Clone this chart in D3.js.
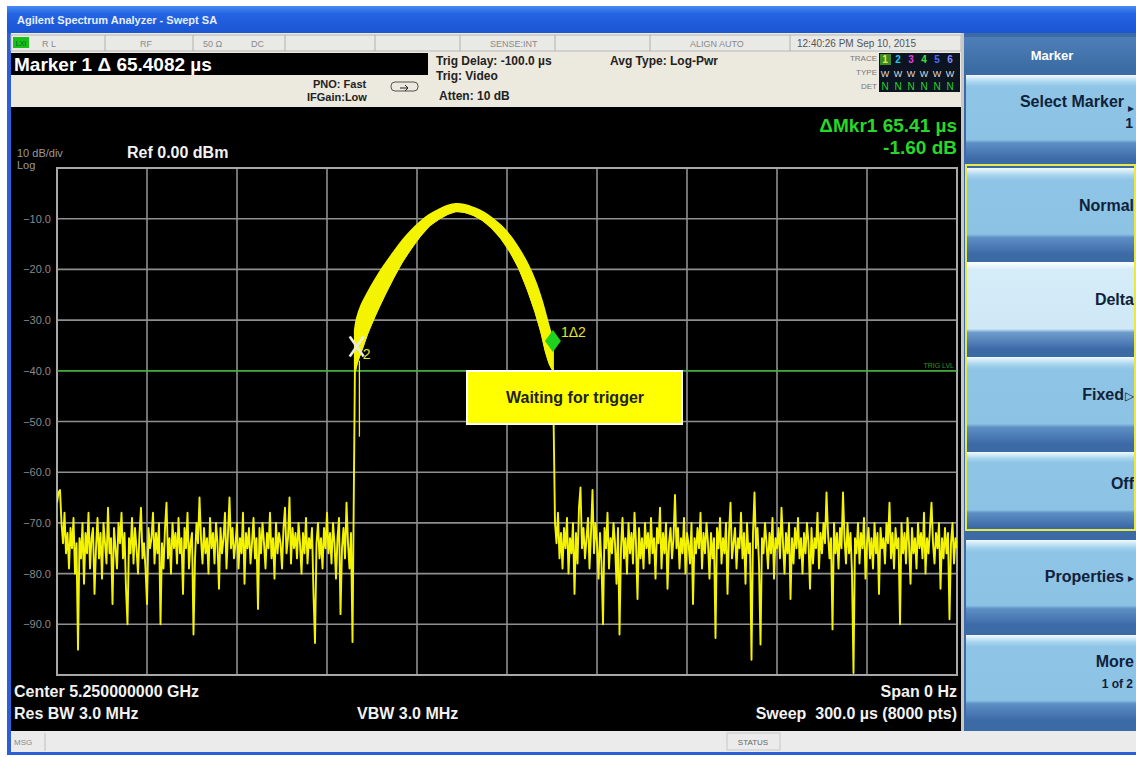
<!DOCTYPE html>
<html>
<head>
<meta charset="utf-8">
<script src="https://cdn.jsdelivr.net/npm/d3@7"></script>
<style>
  body { margin: 0; background: #fff; }
  svg { display: block; font-family: 'Liberation Sans', Arial, sans-serif; }
</style>
</head>
<body>
<script>
// sweep: 0 .. 300 us, 8000 pts, ref 0 dBm, 10 dB/div
const sweepRange = [0, 300];
const levelRange = [-100, 0];
const xGrid = [0, 30, 60, 90, 120, 150, 180, 210, 240, 270, 300];
const yGrid = [-100, -90, -80, -70, -60, -50, -40, -30, -20, -10, 0];
const yLabels = [-10, -20, -30, -40, -50, -60, -70, -80, -90];
const trigLevel = -40;

// noise floor before the burst (0 .. 98.5 us, every 0.5 us)
const noiseStep = 0.5;
const leftNoise = [
  -66, -64, -63.5, -70, -74, -68, -76, -72, -79, -71, -75, -69, -80, -74, -95, -73, -77, -70, -82, -72,
  -76, -68, -79, -73, -71, -84, -75, -69, -77, -72, -81, -70, -74, -78, -67, -76, -73, -86, -71, -75,
  -79, -70, -74, -68, -77, -72, -83, -90, -73, -76, -69, -78, -71, -75, -80, -72, -67, -77, -74, -79,
  -86, -71, -75, -73, -68, -78, -72, -76, -70, -90, -74, -79, -71, -66, -77, -73, -80, -70, -75, -72,
  -78, -69, -76, -73, -84, -71, -75, -68, -79, -74, -72, -92, -77, -70, -74, -65, -73, -78, -71, -76,
  -73, -80, -69, -75, -72, -78, -70, -74, -83, -71, -76, -73, -68, -79, -72, -65, -75, -71, -77, -74,
  -70, -79, -73, -76, -68, -82, -72, -75, -71, -78, -74, -69, -77, -73, -87, -71, -76, -70, -74, -79,
  -72, -75, -68, -77, -73, -81, -70, -76, -72, -74, -79, -71, -67, -76, -73, -65, -78, -71, -75, -72,
  -77, -70, -74, -80, -72, -76, -69, -78, -73, -75, -71, -84, -93.7, -74, -70, -77, -73, -79, -71, -75,
  -68, -76, -72, -78, -70, -74, -81, -73, -69, -88, -75, -71, -77, -66, -74, -79, -72, -93.5
];

// burst envelope (upper / lower edge of the trace band)
const pulseTime = [99.3, 100, 101.5, 103.5, 106, 109, 112, 115, 118, 121, 124, 127, 130, 133,
  136, 139, 142, 145, 148, 151, 154, 157, 159.5, 161.5, 163, 164.3, 165.3];
const pulseHi = [-32.0, -29.6, -27.0, -24.7, -22.1, -19.3, -16.8, -14.4, -12.4, -10.7, -9.3, -8.3, -7.5, -7.1,
  -7.3, -7.9, -8.7, -9.9, -11.4, -13.4, -16.0, -19.1, -22.5, -26.0, -29.2, -32.0, -33.9];
const pulseLo = [-40.2, -38.3, -35.9, -32.5, -29.0, -25.2, -21.7, -18.5, -15.8, -13.4, -11.4, -10.1, -9.1, -8.5,
  -8.7, -9.3, -10.3, -11.8, -13.8, -16.4, -19.7, -24.1, -28.4, -32.5, -36.3, -38.7, -39.8];
const dipTime = [100.8];
const dipLevel = [-53];

// noise floor after the burst (166 .. 300 us)
const rightStart = 166;
const rightNoise = [
  -70, -74, -68, -77, -72, -79, -71, -75, -69, -80, -73, -76, -70, -84, -72, -78, -67, -63, -75, -71,
  -77, -73, -69, -79, -72, -63.5, -76, -70, -74, -81, -72, -78, -90, -71, -75, -68, -79, -73, -76, -70,
  -74, -82, -71, -92, -75, -69, -77, -73, -80, -70, -76, -72, -78, -68, -74, -85, -71, -77, -73, -79,
  -70, -75, -72, -78, -69, -76, -73, -81, -71, -74, -67, -79, -72, -76, -70, -83, -74, -71, -77, -73,
  -64.5, -75, -71, -79, -73, -76, -69, -80, -72, -74, -78, -70, -86, -73, -76, -71, -75, -68, -79, -72,
  -76, -70, -74, -81, -72, -77, -73, -92.7, -71, -75, -69, -78, -73, -76, -70, -84, -72, -66, -77, -74,
  -71, -79, -73, -75, -68, -77, -72, -82, -70, -76, -74, -97, -72, -64, -75, -71, -78, -94, -73, -76,
  -70, -74, -79, -72, -76, -69, -81, -73, -75, -71, -77, -67, -74, -80, -72, -76, -70, -85, -73, -78,
  -71, -75, -69, -77, -73, -80, -72, -76, -70, -74, -83, -71, -78, -73, -75, -68, -79, -72, -76, -70,
  -74, -64, -72, -77, -73, -91, -70, -76, -72, -79, -71, -75, -64, -73, -78, -70, -76, -72, -80, -99.6,
  -73, -76, -70, -78, -72, -75, -69, -81, -74, -71, -77, -73, -79, -70, -76, -72, -84, -71, -75, -73,
  -78, -70, -74, -66, -77, -72, -79, -71, -75, -73, -90, -70, -76, -72, -78, -69, -74, -82, -71, -76,
  -73, -79, -70, -75, -72, -77, -68, -80, -73, -76, -71, -66, -74, -78, -72, -75, -70, -83, -73, -77,
  -71, -76, -72, -89, -74, -70, -78, -73, -75
];

// markers
const markerTime = [165.3, 99.9];
const markerLevel = [-34.1, -35.2];

// softkeys
const softkeys = [
  { label: 'Select Marker', sub: '1', arrow: '\u25B8', y0: 75, y1: 160 },
  { label: 'Normal', y0: 168, y1: 255 },
  { label: 'Delta', y0: 262, y1: 350, active: true },
  { label: 'Fixed', arrow: '\u25B7', y0: 357, y1: 445 },
  { label: 'Off', y0: 452, y1: 528 },
  { label: 'Properties', arrow: '\u25B8', y0: 540, y1: 626 },
  { label: 'More', sub: '1 of 2', y0: 635, y1: 721 }
];

const W = 1136, H = 758;
const plot = { left: 57, right: 957, top: 168, bottom: 675 };

const svg = d3.select('body').append('svg').attr('width', W).attr('height', H);
const defs = svg.append('defs');

function grad(id, stops) {
  const g = defs.append('linearGradient').attr('id', id).attr('x1', 0).attr('y1', 0).attr('x2', 0).attr('y2', 1);
  stops.forEach(s => g.append('stop').attr('offset', s[0]).attr('stop-color', s[1]));
}
grad('title', [[0, '#4a8af2'], [0.3, '#2463e2'], [1, '#1a55d2']]);
grad('key', [[0, '#f2fafe'], [0.08, '#aad6ef'], [0.14, '#8ec4e6'], [0.76, '#8cc2e4'], [0.8, '#5d8fc4'], [1, '#3b68a6']]);
grad('keyOn', [[0, '#ffffff'], [0.08, '#d6edf9'], [0.76, '#cfe8f6'], [0.8, '#6f9ccc'], [1, '#3b68a6']]);
grad('head', [[0, '#4f7fb8'], [1, '#3a6aa2']]);

// window frame + title bar
svg.append('rect').attr('x', 7).attr('y', 6).attr('width', W - 7).attr('height', 749).attr('fill', '#2a5fd6');
svg.append('rect').attr('x', 7).attr('y', 6).attr('width', W - 7).attr('height', 27).attr('fill', 'url(#title)');
svg.append('text').attr('x', 17).attr('y', 24).attr('fill', '#e6eeff').attr('font-size', 11).attr('font-weight', 'bold')
  .text('Agilent Spectrum Analyzer - Swept SA');

// header area
svg.append('rect').attr('x', 11).attr('y', 33).attr('width', 950).attr('height', 75).attr('fill', '#ece9df');
svg.append('rect').attr('x', 11).attr('y', 35).attr('width', 950).attr('height', 16).attr('fill', '#e9e9e6')
  .attr('stroke', '#b8b8b8');
[105, 193, 285, 375, 460, 555, 650, 790].forEach(px => {
  svg.append('line').attr('x1', px).attr('x2', px).attr('y1', 35).attr('y2', 51).attr('stroke', '#b0b0b0');
});
svg.append('rect').attr('x', 13).attr('y', 37).attr('width', 16).attr('height', 11).attr('fill', '#19c019');
svg.append('text').attr('x', 21).attr('y', 46).attr('text-anchor', 'middle').attr('font-size', 7).attr('fill', '#063').text('LXI');
const statusTxt = [[42, 'R L'], [140, 'RF'], [203, '50 \u03A9'], [251, 'DC'], [490, 'SENSE:INT'], [690, 'ALIGN AUTO'], [797, '12:40:26 PM Sep 10, 2015']];
statusTxt.forEach(s => {
  svg.append('text').attr('x', s[0]).attr('y', 47).attr('font-size', s[0] > 790 ? 10 : 9)
    .attr('fill', s[0] > 790 ? '#555' : '#8a8a8a').text(s[1]);
});

svg.append('rect').attr('x', 11).attr('y', 53).attr('width', 417).attr('height', 22).attr('fill', '#000');
svg.append('text').attr('x', 14).attr('y', 71).attr('fill', '#fff').attr('font-size', 19).attr('font-weight', 'bold')
  .text('Marker 1 \u0394 65.4082 \u00B5s');

const hdr = [[313, 88, 'PNO: Fast'], [307, 101, 'IFGain:Low'], [436, 65, 'Trig Delay: -100.0 \u00B5s'],
  [436, 80, 'Trig: Video'], [439, 100, 'Atten: 10 dB'], [610, 65, 'Avg Type: Log-Pwr']];
hdr.forEach(h => {
  svg.append('text').attr('x', h[0]).attr('y', h[1]).attr('font-size', h[0] < 400 ? 11 : 12)
    .attr('font-weight', 'bold').attr('fill', '#222').text(h[2]);
});
svg.append('rect').attr('x', 391).attr('y', 82).attr('width', 27).attr('height', 9).attr('rx', 4)
  .attr('fill', 'none').attr('stroke', '#555');
svg.append('path').attr('d', 'M400,88 L408,88 M405,85 L408,88 L405,91').attr('stroke', '#222').attr('fill', 'none');

// trace / type / det box
[['TRACE', 61], ['TYPE', 75], ['DET', 89]].forEach(r => {
  svg.append('text').attr('x', 877).attr('y', r[1]).attr('text-anchor', 'end').attr('font-size', 8).attr('fill', '#777').text(r[0]);
});
svg.append('rect').attr('x', 879).attr('y', 53).attr('width', 81).attr('height', 39).attr('fill', '#0b1420');
const traceCol = ['#e8e830', '#20c8f0', '#e040e0', '#40e040', '#4a6cff', '#8a8aff'];
traceCol.forEach((c, i) => {
  if (i === 0) svg.append('rect').attr('x', 880).attr('y', 54).attr('width', 11).attr('height', 11).attr('fill', '#3a8a2a');
  svg.append('text').attr('x', 885 + i * 13).attr('y', 63).attr('text-anchor', 'middle').attr('font-size', 10)
    .attr('font-weight', 'bold').attr('fill', c).text(i + 1);
  svg.append('text').attr('x', 885 + i * 13).attr('y', 77).attr('text-anchor', 'middle').attr('font-size', 9)
    .attr('fill', '#ddd').text('W');
  svg.append('text').attr('x', 885 + i * 13).attr('y', 90).attr('text-anchor', 'middle').attr('font-size', 10)
    .attr('fill', '#2cd02c').text('N');
});

// display area
svg.append('rect').attr('x', 11).attr('y', 107).attr('width', 950).attr('height', 624).attr('fill', '#000');
svg.append('rect').attr('x', 961).attr('y', 33).attr('width', 3).attr('height', 698).attr('fill', '#c8c8c8');

const x = d3.scaleLinear().domain(sweepRange).range([plot.left, plot.right]);
const y = d3.scaleLinear().domain(levelRange).range([plot.bottom, plot.top]);

const grid = svg.append('g').attr('class', 'grid');
grid.selectAll('line.v').data(xGrid).join('line').attr('class', 'v')
  .attr('x1', d => x(d)).attr('x2', d => x(d)).attr('y1', plot.top).attr('y2', plot.bottom)
  .attr('stroke', '#8f8f8f').attr('stroke-width', 1.6);
grid.selectAll('line.h').data(yGrid).join('line').attr('class', 'h')
  .attr('x1', plot.left).attr('x2', plot.right).attr('y1', d => y(d)).attr('y2', d => y(d))
  .attr('stroke', '#8f8f8f').attr('stroke-width', 1.6);
grid.append('rect').attr('x', plot.left).attr('y', plot.top).attr('width', plot.right - plot.left)
  .attr('height', plot.bottom - plot.top).attr('fill', 'none').attr('stroke', '#a8a8a8').attr('stroke-width', 2);

const yAxis = d3.axisLeft(y).tickValues(yLabels).tickSize(0).tickPadding(6).tickFormat(d3.format('.1f'));
svg.append('g').attr('transform', `translate(${plot.left},0)`).call(yAxis)
  .call(g => g.select('.domain').remove())
  .selectAll('text').attr('fill', '#8a8a8a').attr('font-size', 11).attr('font-family', 'Liberation Sans, Arial');

// trigger level
svg.append('line').attr('x1', plot.left).attr('x2', plot.right).attr('y1', y(trigLevel)).attr('y2', y(trigLevel))
  .attr('stroke', '#34b534').attr('stroke-width', 1.5);
svg.append('text').attr('x', 954).attr('y', y(trigLevel) - 3).attr('text-anchor', 'end').attr('font-size', 7)
  .attr('fill', '#2a9a2a').text('TRIG LVL');

// trace
svg.append('clipPath').attr('id', 'clip').append('rect').attr('x', plot.left).attr('y', plot.top)
  .attr('width', plot.right - plot.left).attr('height', plot.bottom - plot.top + 2);
const traceG = svg.append('g').attr('clip-path', 'url(#clip)');

const pulse = pulseTime.map((t, i) => ({ t: t, hi: pulseHi[i], lo: pulseLo[i] }));
const trace = leftNoise.map((v, i) => ({ t: i * noiseStep, db: v }))
  .concat(pulse.map(p => ({ t: p.t, db: p.lo })))
  .concat(rightNoise.map((v, i) => ({ t: rightStart + i * noiseStep, db: v })));

const yellow = '#f4f400';
traceG.append('path').datum(pulse)
  .attr('d', d3.area().x(d => x(d.t)).y0(d => y(d.lo)).y1(d => y(d.hi)).curve(d3.curveCatmullRom))
  .attr('fill', yellow).attr('stroke', yellow).attr('stroke-width', 2);
traceG.append('path').datum(trace)
  .attr('d', d3.line().x(d => x(d.t)).y(d => y(d.db)))
  .attr('fill', 'none').attr('stroke', yellow).attr('stroke-width', 1.9).attr('stroke-linejoin', 'round');
dipTime.forEach((t, i) => {
  traceG.append('line').attr('x1', x(t)).attr('x2', x(t)).attr('y1', y(-38)).attr('y2', y(dipLevel[i]))
    .attr('stroke', yellow).attr('stroke-width', 1.3);
});

// markers
const m1x = x(markerTime[0]), m1y = y(markerLevel[0]);
svg.append('path').attr('d', `M${m1x},${m1y - 11} L${m1x + 8},${m1y} L${m1x},${m1y + 11} L${m1x - 8},${m1y} Z`)
  .attr('fill', '#1ed21e');
svg.append('text').attr('x', m1x + 8).attr('y', m1y - 4).attr('fill', '#e6e62a').attr('font-size', 14).text('1\u03942');
const m2x = x(markerTime[1]), m2y = y(markerLevel[1]);
svg.append('path').attr('d', `M${m2x - 7},${m2y - 10} L${m2x + 7},${m2y + 10} M${m2x + 7},${m2y - 10} L${m2x - 7},${m2y + 10}`)
  .attr('stroke', '#e8e8e8').attr('stroke-width', 2.6);
svg.append('text').attr('x', m2x + 6).attr('y', m2y + 13).attr('fill', '#e6e62a').attr('font-size', 14).text('2');

// waiting for trigger
svg.append('rect').attr('x', 467).attr('y', 371).attr('width', 215).attr('height', 53)
  .attr('fill', '#ffff00').attr('stroke', '#fff').attr('stroke-width', 2);
svg.append('text').attr('x', 575).attr('y', 403).attr('text-anchor', 'middle').attr('font-size', 16)
  .attr('font-weight', 'bold').attr('fill', '#222').text('Waiting for trigger');

// annotations on the display
svg.append('text').attr('x', 17).attr('y', 157).attr('fill', '#9a9a9a').attr('font-size', 11).text('10 dB/div');
svg.append('text').attr('x', 17).attr('y', 169).attr('fill', '#9a9a9a').attr('font-size', 11).text('Log');
svg.append('text').attr('x', 127).attr('y', 158).attr('fill', '#f2f2f2').attr('font-size', 16).attr('font-weight', 'bold')
  .text('Ref 0.00 dBm');
svg.append('text').attr('x', 957).attr('y', 132).attr('text-anchor', 'end').attr('fill', '#28d828').attr('font-size', 19)
  .attr('font-weight', 'bold').text('\u0394Mkr1 65.41 \u00B5s');
svg.append('text').attr('x', 957).attr('y', 154).attr('text-anchor', 'end').attr('fill', '#28d828').attr('font-size', 19)
  .attr('font-weight', 'bold').text('-1.60 dB');

const foot = [[14, 697, 'start', 'Center 5.250000000 GHz'], [14, 719, 'start', 'Res BW 3.0 MHz'],
  [357, 719, 'start', 'VBW 3.0 MHz'], [957, 697, 'end', 'Span 0 Hz'], [957, 719, 'end', 'Sweep  300.0 \u00B5s (8000 pts)']];
foot.forEach(f => {
  svg.append('text').attr('x', f[0]).attr('y', f[1]).attr('text-anchor', f[2]).attr('fill', '#f2f2f2')
    .attr('font-size', 16).attr('font-weight', 'bold').attr('xml:space', 'preserve').text(f[3]);
});

// bottom status bar
svg.append('rect').attr('x', 11).attr('y', 731).attr('width', W - 11).attr('height', 21).attr('fill', '#ebebeb');
svg.append('line').attr('x1', 45).attr('x2', 45).attr('y1', 733).attr('y2', 751).attr('stroke', '#c0c0c0');
svg.append('text').attr('x', 14).attr('y', 745).attr('font-size', 8).attr('fill', '#888').text('MSG');
svg.append('rect').attr('x', 727).attr('y', 733).attr('width', 53).attr('height', 17).attr('fill', 'none').attr('stroke', '#c8c8c8');
svg.append('text').attr('x', 753).attr('y', 745).attr('text-anchor', 'middle').attr('font-size', 8).attr('fill', '#666').text('STATUS');

// softkey panel
svg.append('rect').attr('x', 964).attr('y', 33).attr('width', W - 964).attr('height', 698).attr('fill', '#3b6aa4');
svg.append('rect').attr('x', 964).attr('y', 37).attr('width', W - 964).attr('height', 35).attr('fill', 'url(#head)');
svg.append('text').attr('x', 1052).attr('y', 60).attr('text-anchor', 'middle').attr('fill', '#fff').attr('font-size', 13)
  .attr('font-weight', 'bold').text('Marker');

const keys = svg.append('g').selectAll('g').data(softkeys).join('g');
keys.append('rect').attr('x', 966).attr('y', d => d.y0).attr('width', W - 966).attr('height', d => d.y1 - d.y0)
  .attr('fill', d => d.active ? 'url(#keyOn)' : 'url(#key)');
keys.append('text').attr('x', d => d.arrow ? 1124 : 1134).attr('y', d => d.sub ? (d.y0 + d.y1) / 2 - 11 : (d.y0 + d.y1) / 2 - 1)
  .attr('text-anchor', 'end').attr('fill', '#10223a').attr('font-size', 16).attr('font-weight', 'bold')
  .text(d => d.label);
keys.filter(d => d.arrow).append('text').attr('x', 1134).attr('y', d => d.sub ? (d.y0 + d.y1) / 2 - 6 : (d.y0 + d.y1) / 2 - 1)
  .attr('text-anchor', 'end').attr('fill', '#10223a').attr('font-size', 12).text(d => d.arrow);
keys.filter(d => d.sub).append('text').attr('x', 1133).attr('y', d => (d.y0 + d.y1) / 2 + 10)
  .attr('text-anchor', 'end').attr('fill', '#10223a').attr('font-size', d => d.sub.length > 1 ? 12 : 14)
  .attr('font-weight', 'bold').text(d => d.sub);
svg.append('rect').attr('x', 966).attr('y', 165).attr('width', W - 967).attr('height', 365)
  .attr('fill', 'none').attr('stroke', '#e8e84a').attr('stroke-width', 2);
</script>
</body>
</html>
